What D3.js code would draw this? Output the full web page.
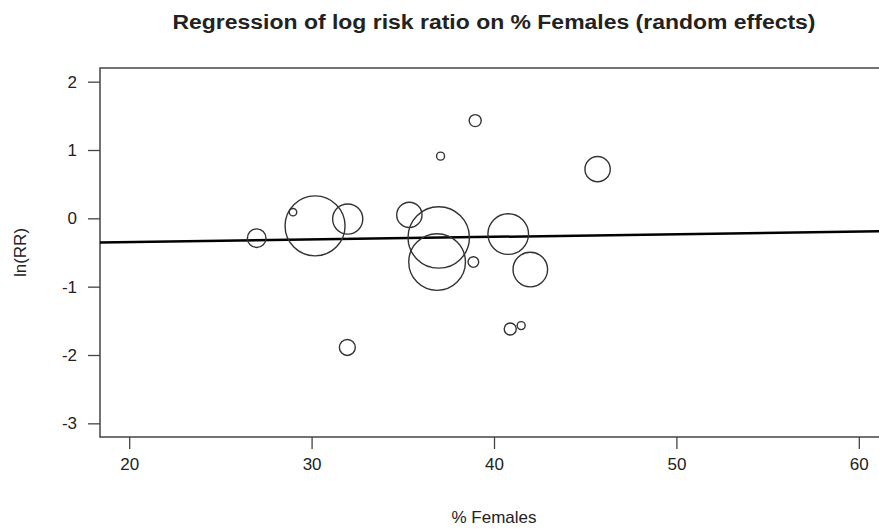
<!DOCTYPE html>
<html>
<head>
<meta charset="utf-8">
<script src="https://cdn.jsdelivr.net/npm/d3@7"></script>
<style>
  body { margin: 0; background: #fff; }
  text { font-family: "Liberation Sans", Arial, Helvetica, sans-serif; fill: #222; }
</style>
</head>
<body>
<div id="chart"></div>
<script>
// % females per study, log risk ratio, and relative weight (random effects)
var pctFemales = [26.99, 28.98, 30.19, 31.98, 31.96, 35.36, 37.07, 38.97, 36.97, 36.88, 38.87, 40.78, 41.99, 40.89, 41.49, 45.68];
var logRR      = [-0.29, 0.09, -0.11, -0.01, -1.89, 0.05, 0.91, 1.43, -0.28, -0.64, -0.64, -0.23, -0.75, -1.62, -1.57, 0.72];
var weights    = [2.05, 0.33, 21.4, 5.4, 1.5, 3.8, 0.38, 0.86, 22.4, 19.1, 0.67, 9.8, 7.1, 0.86, 0.38, 3.8];

// meta-regression fit: ln(RR) = b0 + b1 * %females
var intercept = -0.423;
var slope = 0.0038;

var xTicks = [20, 30, 40, 50, 60];
var yTicks = [-3, -2, -1, 0, 1, 2];

var width = 879, height = 532;
var margin = {left: 100, top: 68, right: -9, bottom: 95};

var svg = d3.select("#chart").append("svg")
    .attr("width", width)
    .attr("height", height);

// R style 4% padding around the limits
var x = d3.scaleLinear().domain([18.4, 61.6]).range([margin.left, width - margin.right]);
var y = d3.scaleLinear().domain([-3.2, 2.2]).range([height - margin.bottom, margin.top]);
var r = d3.scaleSqrt().domain([0, d3.max(weights)]).range([0, 30.7]);

var data = pctFemales.map(function(d, i) {
    return {x: d, y: logRR[i], w: weights[i]};
});

svg.append("clipPath").attr("id", "clip")
    .append("rect")
    .attr("x", margin.left).attr("y", margin.top)
    .attr("width", width - margin.right - margin.left)
    .attr("height", height - margin.bottom - margin.top);

// axes (plain hyphen minus like R)
var fmt = function(d) { return String(d); };
var xAxis = svg.append("g")
    .attr("transform", "translate(0," + (height - margin.bottom) + ")")
    .call(d3.axisBottom(x).tickValues(xTicks).tickFormat(fmt).tickSize(12).tickPadding(9));
var yAxis = svg.append("g")
    .attr("transform", "translate(" + margin.left + ",0)")
    .call(d3.axisLeft(y).tickValues(yTicks).tickFormat(fmt).tickSize(12).tickPadding(11));

[xAxis, yAxis].forEach(function(g) {
    g.select(".domain").remove();
    g.selectAll(".tick line").attr("stroke", "#444").attr("stroke-width", 1.3);
    g.selectAll(".tick text").style("font-size", "17px").attr("fill", "#222");
});

// plot box
svg.append("rect")
    .attr("x", margin.left).attr("y", margin.top)
    .attr("width", width - margin.right - margin.left)
    .attr("height", height - margin.bottom - margin.top)
    .attr("fill", "none")
    .attr("stroke", "#444")
    .attr("stroke-width", 1.5);

var plot = svg.append("g").attr("clip-path", "url(#clip)");

// regression line
var xs = x.domain();
plot.append("line")
    .attr("x1", x(xs[0])).attr("y1", y(intercept + slope * xs[0]))
    .attr("x2", x(xs[1])).attr("y2", y(intercept + slope * xs[1]))
    .attr("stroke", "#000")
    .attr("stroke-width", 2.5);

// bubbles
plot.selectAll("circle")
    .data(data)
    .enter()
    .append("circle")
    .attr("cx", function(d) { return x(d.x); })
    .attr("cy", function(d) { return y(d.y); })
    .attr("r", function(d) { return r(d.w); })
    .attr("fill", "none")
    .attr("stroke", "#333")
    .attr("stroke-width", 1.4);

// titles
svg.append("text")
    .attr("x", (margin.left + width - margin.right) / 2)
    .attr("y", 29)
    .attr("text-anchor", "middle")
    .attr("textLength", 643)
    .attr("lengthAdjust", "spacingAndGlyphs")
    .style("font-size", "20px")
    .style("font-weight", "bold")
    .text("Regression of log risk ratio on % Females (random effects)");

svg.append("text")
    .attr("x", (margin.left + width - margin.right) / 2)
    .attr("y", 523)
    .attr("text-anchor", "middle")
    .style("font-size", "17px")
    .text("% Females");

svg.append("text")
    .attr("transform", "translate(26," + ((margin.top + height - margin.bottom) / 2) + ") rotate(-90)")
    .attr("text-anchor", "middle")
    .style("font-size", "17px")
    .text("ln(RR)");
</script>
</body>
</html>
